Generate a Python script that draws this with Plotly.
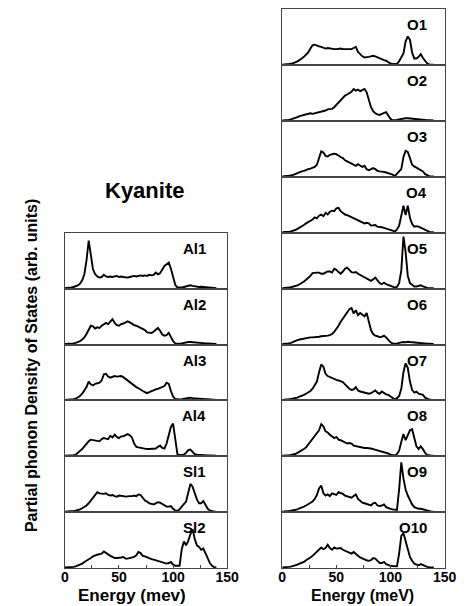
import plotly.graph_objects as go

# ---------------- data ----------------
energy = [0, 2, 4, 6, 8, 10, 12, 14, 16, 18, 20, 22, 24, 26, 28, 30, 32, 34, 36, 38,
          40, 42, 44, 46, 48, 50, 52, 54, 56, 58, 60, 62, 64, 66, 68, 70, 72, 74, 76, 78,
          80, 82, 84, 86, 88, 90, 92, 94, 96, 98, 100, 102, 104, 106, 108, 110, 112, 114, 116, 118,
          120, 122, 124, 126, 128, 130, 132, 134, 136, 138, 140]

al1 = [0,0,0.5,1,2,3,5,8,14,25,50,86,62,34,25,21,19,20,24,21,20,21,20,21,22,20,21,20,19,19,20,21,22,21,22,23,22,23,22,24,23,24,28,25,27,33,40,43,46,35,20,6,1,0.5,1,2,3,5,5,4,3,2,2,2.5,2,1.5,1,1,0.5,0,0]
al2 = [0,0,0,0.5,1,2,3,5,8,12,18,26,33,32,28,30,29,33,35,38,36,41,45,38,34,33,36,37,39,41,39,36,34,33,31,29,27,25,21,20,20,22,25,29,24,17,15,16,20,13,5,1,0.5,0.5,1,2,3,3.5,3.5,3,2.5,2,2,1.5,1.5,1,1,0.5,0.5,0,0]
al3 = [0,0,0,0.5,1,2,4,7,11,16,23,33,28,26,29,30,31,35,46,47,42,40,42,43,42,42,43,41,38,34,31,28,25,23,21,18,16,14,12,14,16,17,19,20,22,23,25,31,29,16,6,1.5,0.5,0.5,1,2,3,3.5,4,3,2.5,2,2,1.5,1.5,1,1,0.5,0.5,0,0]
al4 = [0,0,0,0.5,1,2,5,8,12,17,22,26,29,28,27,27,26,30,32,31,30,36,33,38,34,32,35,35,37,39,37,33,22,16,15,14,13,12,12,12,12,12,13,16,18,14,13,22,38,52,58,25,3,1,1,2,5,10,11,6,3,2,1.5,1,1,1,0.5,0.5,0,0,0]
si1 = [0,0,0,0.5,1,1.5,2.5,4,6,8,11,15,20,26,31,35,33,32,32,33,30,29,30,28,27,29,29,28,27,28,28,28,29,28,31,30,24,20,18,15,14,13,15,17,16,14,12,9,9,10,5,2,1,4,9,13,18,34,50,45,33,22,15,15,19,12,5,2,0.5,0,0]
si2 = [0,0,0,0.5,1,2,3.5,5,7,10,12,15,17,20,22,23,24,25,29,26,23,21,19,17,17,17,18,19,16,16,17,18,19,22,28,26,21,20,18,17,15,14,13,11,10,9,9,7,8,10,5,3,3,3,33,47,40,48,60,69,52,40,37,32,34,26,15,8,3,0.5,0]

o1 = [0,0,0.5,1,1.5,2.5,4,6,8,11,14,18,22,29,35,36,34,33,32,30,29,30,29,29,28,28,29,29,28,28,29,29,28,30,32,23,18,15,13,13,14,15,16,15,13,11,9,8,7,4,2,1,0.5,1,6,12,20,42,51,45,22,11,11,14,19,12,6,2,0.5,0,0]
o2 = [0,0,0.5,1,2,3,4,6,8,9,11,12,13,13,12,13,14,15,16,16,18,20,20,21,24,28,32,36,40,45,47,50,52,57,54,56,53,55,57,51,35,24,17,13,11,10,12,14,15,9,3,0.5,0.5,1,2,3,3.5,4,4,3.5,3,2.5,2,2,1.5,1,1,0.5,0.5,0,0]
o3 = [0,0,0.5,1,1.5,2.5,4,6,8,9,10,12,13,14,15,17,21,32,45,43,37,36,39,40,41,40,37,35,33,29,27,25,22,21,19,22,19,17,19,13,11,13,15,13,10,9,9,8,7,6,5,3,0.5,4,9,13,35,46,44,33,21,18,16,14,11,9,4,1.5,0.5,0,0]
o4 = [0,0,0.5,1,1.5,2.5,4,6,8,10,13,16,18,20,23,27,25,30,32,29,35,32,37,39,38,43,44,38,35,32,31,29,27,25,23,21,19,18,16,17,16,12,13,13,10,10,9,8,7,5,4,3,1,5,12,30,48,31,48,26,15,10,11,10,8,5,3,1,0.5,0,0]
o5 = [0,0,0.5,1,1.5,2.5,4,5,7,9,12,15,18,22,27,28,28,28,26,26,28,30,30,28,35,33,29,26,30,35,37,32,29,28,29,26,24,22,20,18,16,13,16,19,14,9,7,10,7,5,3,2.5,1,2,9,32,93,65,22,9,6,3,3,4,5,3,1.5,0.5,0,0,0]
o6 = [0,0,0.5,1,2,4,6,7,8,9,10,11,12,12,12,12,13,13,14,14,14,15,16,18,22,27,33,40,46,52,57,63,65,55,61,52,56,53,50,56,42,25,18,15,14,12,13,15,12,7,3,1,0.5,0.5,2,3,3.5,3,4,3.5,3,3.5,3,2.5,2,1.5,1,0.5,0.5,0,0]
o7 = [0,0,0.5,1,1.5,2,3,4,6,7,9,11,13,16,20,26,33,50,64,60,47,43,41,39,37,36,35,34,32,28,23,20,18,19,23,17,15,14,12,11,11,12,14,17,13,11,15,12,10,9,6,3,1,3,7,20,50,66,58,33,18,13,15,11,10,9,4,1.5,0.5,0,0]
o8 = [0,0,0.5,1,1.5,2,3,5,7,9,12,15,20,25,30,35,40,46,57,53,44,42,38,35,32,34,29,28,26,24,22,23,22,18,17,16,15,15,14,14,14,13,12,11,10,9,7,6,5,4,2,1,0.5,3,9,25,39,28,38,46,48,34,17,12,17,12,5,1.5,0.5,0,0]
o9 = [0,0,0.5,1,1.5,2,3,4,6,7,9,11,13,15,18,23,30,42,47,33,29,31,28,33,32,30,35,34,32,29,28,27,25,28,31,23,19,16,15,14,12,11,15,16,11,10,11,13,8,6,5,4,3.5,3,40,89,60,40,29,20,13,8,6,5,5,4,2,1,0.5,0,0]
o10 = [0,0,0.5,1,1.5,2.5,4,5,7,8,10,13,15,18,21,25,28,33,36,33,35,41,35,32,36,34,35,35,32,30,29,27,25,28,24,21,18,16,15,13,12,13,17,16,12,8,8,10,6,4,3,2.5,2,2,25,57,62,47,30,19,12,7,5,4,6,4,2,1,0.5,0,0]

left_labels = ["Al1", "Al2", "Al3", "Al4", "Sl1", "Sl2"]
left_series = [al1, al2, al3, al4, si1, si2]
right_labels = ["O1", "O2", "O3", "O4", "O5", "O6", "O7", "O8", "O9", "O10"]
right_series = [o1, o2, o3, o4, o5, o6, o7, o8, o9, o10]

tick_vals = [0, 25, 50, 75, 100, 125, 150]
tick_text = ["0", "", "50", "", "100", "", "150"]

# ---------------- layout geometry (pixels) ----------------
W, H = 473, 606
FONT = "Liberation Sans, Arial, Helvetica, sans-serif"
bottom_px = 568.0
panel_h = (568.0 - 9.3) / 10.0
cols = [
    dict(x0=63, x1=231, labels=left_labels, series=left_series, label_right=211),
    dict(x0=288, x1=456, labels=right_labels, series=right_series, label_right=440),
]

fig = go.Figure()
layout = dict(width=W, height=H, margin=dict(l=0, r=0, t=0, b=0),
              paper_bgcolor="white", plot_bgcolor="white", showlegend=False)
annotations = []
k = 0
for col in cols:
    n = len(col["series"])
    for i, (lab, vals) in enumerate(zip(col["labels"], col["series"])):
        assert len(vals) == len(energy), (lab, len(vals))
        k += 1
        sfx = "" if k == 1 else str(k)
        top = bottom_px - (n - i) * panel_h
        bot = top + panel_h
        is_bottom = (i == n - 1)
        fig.add_trace(go.Scatter(x=energy, y=vals, mode="lines",
                                 line=dict(color="black", width=1.9),
                                 xaxis="x" + sfx, yaxis="y" + sfx,
                                 hoverinfo="skip", showlegend=False))
        layout["xaxis" + sfx] = dict(
            domain=[col["x0"] / W, col["x1"] / W], anchor="y" + sfx,
            range=[0, 150], showgrid=False, zeroline=False,
            showline=True, mirror=True, linecolor="#444", linewidth=1,
            tickmode="array", tickvals=tick_vals, ticktext=tick_text,
            ticks="inside" if is_bottom else "", ticklen=3, tickcolor="#444",
            ticklabelstandoff=-4,
            showticklabels=is_bottom,
            tickfont=dict(family=FONT, size=14, color="black", weight="bold"),
            fixedrange=True)
        layout["yaxis" + sfx] = dict(
            domain=[1 - bot / H, 1 - top / H], anchor="x" + sfx,
            range=[-1, 100], showgrid=False, zeroline=False,
            showline=True, mirror=True, linecolor="#444", linewidth=1,
            showticklabels=False, ticks="", fixedrange=True)
        annotations.append(dict(
            text=lab, xref="paper", yref="paper",
            x=col["label_right"] / W, y=1 - (top + 5) / H,
            xanchor="right", yanchor="top", showarrow=False,
            font=dict(family=FONT, size=15, color="black", weight="bold")))

annotations += [
    dict(text="Kyanite", xref="paper", yref="paper", x=145 / W, y=1 - 190 / H,
         xanchor="center", yanchor="middle", showarrow=False,
         font=dict(family=FONT, size=22, color="black", weight="bold")),
    dict(text="Partial phonon Density of States (arb. units)", xref="paper", yref="paper",
         x=28 / W, y=1 - 366 / H, xanchor="center", yanchor="middle", textangle=-90,
         showarrow=False, font=dict(family=FONT, size=16, color="black", weight="bold")),
    dict(text="Energy (mev)", xref="paper", yref="paper", x=132 / W, y=1 - 595 / H,
         xanchor="center", yanchor="middle", showarrow=False,
         font=dict(family=FONT, size=17, color="black", weight="bold")),
    dict(text="Energy (meV)", xref="paper", yref="paper", x=371 / W, y=1 - 595 / H,
         xanchor="center", yanchor="middle", showarrow=False,
         font=dict(family=FONT, size=16, color="black", weight="bold")),
]
layout["annotations"] = annotations
fig.update_layout(**layout)
fig.write_html("out.html")
